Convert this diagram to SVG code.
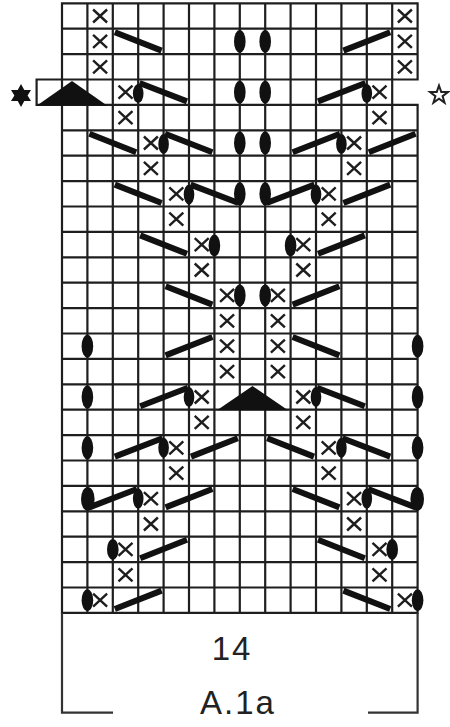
<svg xmlns="http://www.w3.org/2000/svg" width="450" height="727" viewBox="0 0 450 727">
<style>
.grid{fill:none;stroke:#1e1e1e;stroke-width:2.2;stroke-linecap:square}
.xm{fill:none;stroke:#1e1e1e;stroke-width:2.4}
.bar{stroke:#111;stroke-width:6;stroke-linecap:butt}
.ov{fill:#111}
.tri{fill:#111}
.br{fill:none;stroke:#333;stroke-width:2.2}
.lbl{font-family:"Liberation Sans",Arial,sans-serif;font-size:33px;fill:#222;letter-spacing:2px;text-anchor:middle}
</style>
<defs>
<path id="x" class="xm" d="M-7 -6.5L7 6.5M-7 6.5L7 -6.5"/>
<g id="half">
<g id="xs">
<use href="#x" x="100.1" y="16"/>
<use href="#x" x="100.1" y="41.4"/>
<use href="#x" x="100.1" y="66.8"/>
<use href="#x" x="125.5" y="92.2"/>
<use href="#x" x="125.5" y="117.6"/>
<use href="#x" x="150.9" y="143"/>
<use href="#x" x="150.9" y="168.4"/>
<use href="#x" x="176.3" y="193.8"/>
<use href="#x" x="176.3" y="219.2"/>
<use href="#x" x="201.7" y="244.6"/>
<use href="#x" x="201.7" y="270"/>
<use href="#x" x="227.1" y="295.4"/>
<use href="#x" x="227.1" y="320.8"/>
<use href="#x" x="227.1" y="346.2"/>
<use href="#x" x="227.1" y="371.6"/>
<use href="#x" x="201.7" y="397"/>
<use href="#x" x="201.7" y="422.4"/>
<use href="#x" x="176.3" y="447.8"/>
<use href="#x" x="176.3" y="473.2"/>
<use href="#x" x="150.9" y="498.6"/>
<use href="#x" x="150.9" y="524"/>
<use href="#x" x="125.5" y="549.4"/>
<use href="#x" x="125.5" y="574.8"/>
<use href="#x" x="100.1" y="600.2"/>
</g>
<g id="bars">
<line class="bar" x1="114.8" y1="32.2" x2="161.6" y2="50.6"/>
<line class="bar" x1="139.5" y1="83" x2="187" y2="101.4"/>
<line class="bar" x1="89.4" y1="133.8" x2="136.2" y2="152.2"/>
<line class="bar" x1="165" y1="133.8" x2="212.4" y2="152.2"/>
<line class="bar" x1="114.8" y1="184.6" x2="161.6" y2="203"/>
<line class="bar" x1="190.5" y1="184.6" x2="238.5" y2="203"/>
<line class="bar" x1="140.2" y1="235.4" x2="187" y2="253.8"/>
<line class="bar" x1="165.6" y1="286.2" x2="212.4" y2="304.6"/>
<line class="bar" x1="165.6" y1="355.4" x2="212.4" y2="337"/>
<line class="bar" x1="140.2" y1="406.2" x2="188" y2="387.8"/>
<line class="bar" x1="114.8" y1="456.6" x2="162.5" y2="438.2"/>
<line class="bar" x1="191" y1="456.6" x2="237.8" y2="438.2"/>
<line class="bar" x1="89.4" y1="507.4" x2="137" y2="489"/>
<line class="bar" x1="165.6" y1="507.4" x2="212.4" y2="489"/>
<line class="bar" x1="140.2" y1="558.2" x2="187" y2="539.8"/>
<line class="bar" x1="114.8" y1="609" x2="161.6" y2="590.6"/>
</g>
<g id="ovals">
<ellipse class="ov" cx="239.8" cy="41.4" rx="5.8" ry="11.5"/>
<ellipse class="ov" cx="138.2" cy="93.5" rx="5.3" ry="9.5"/>
<ellipse class="ov" cx="239.8" cy="92.2" rx="5.8" ry="11.5"/>
<ellipse class="ov" cx="163.6" cy="144" rx="5.3" ry="10"/>
<ellipse class="ov" cx="239.8" cy="143" rx="5.8" ry="11.5"/>
<ellipse class="ov" cx="189" cy="194.5" rx="5.3" ry="10"/>
<ellipse class="ov" cx="239.8" cy="193.8" rx="5.8" ry="11.5"/>
<ellipse class="ov" cx="214.4" cy="245.5" rx="5.8" ry="11"/>
<ellipse class="ov" cx="239.8" cy="295.4" rx="5.8" ry="11"/>
<ellipse class="ov" cx="87.4" cy="346.2" rx="5.8" ry="11.5"/>
<ellipse class="ov" cx="87.4" cy="397" rx="5.8" ry="11.5"/>
<ellipse class="ov" cx="189" cy="397" rx="5.3" ry="10"/>
<ellipse class="ov" cx="87.4" cy="447.8" rx="5.8" ry="11.5"/>
<ellipse class="ov" cx="163.6" cy="447.8" rx="5.3" ry="10"/>
<ellipse class="ov" cx="87.8" cy="499" rx="6.8" ry="12"/>
<ellipse class="ov" cx="138.2" cy="498.6" rx="5.3" ry="10"/>
<ellipse class="ov" cx="112.8" cy="549.4" rx="5.8" ry="10.5"/>
<ellipse class="ov" cx="87.4" cy="600.2" rx="5.8" ry="11"/>
</g>
</g>
</defs>
<rect width="450" height="727" fill="#fff"/>
<g id="chart-grid">
<rect x="36.6" y="79.5" width="355.6" height="25.4" fill="#fff"/>
<path class="grid" d="M62 3.3H417.6M62 28.7H417.6M62 54.1H417.6M36.6 79.5H417.6M36.6 104.9H417.6M62 130.3H417.6M62 155.7H417.6M62 181.1H417.6M62 206.5H417.6M62 231.9H417.6M62 257.3H417.6M62 282.7H417.6M62 308.1H417.6M62 333.5H417.6M62 358.9H417.6M62 384.3H417.6M62 409.7H417.6M62 435.1H417.6M62 460.5H417.6M62 485.9H417.6M62 511.3H417.6M62 536.7H417.6M62 562.1H417.6M62 587.5H417.6M62 612.9H417.6M62 3.3V612.9M87.4 3.3V612.9M112.8 3.3V612.9M138.2 3.3V612.9M163.6 3.3V612.9M189 3.3V612.9M214.4 3.3V612.9M239.8 3.3V612.9M265.2 3.3V612.9M290.6 3.3V612.9M316 3.3V612.9M341.4 3.3V612.9M366.8 3.3V612.9M392.2 3.3V612.9M417.6 3.3V79.5M417.6 104.9V612.9M36.6 79.5V104.9"/>
</g>
<g id="symbols">
<use href="#half"/>
<use href="#half" transform="translate(505 0) scale(-1 1)"/>
<polygon id="triangle-top" class="tri" points="37,105.5 72,81 107,105.5"/>
<polygon id="triangle-centre" class="tri" points="217,410.3 252.5,386 288,410.3"/>
</g>
<g id="markers">
<polygon id="star-filled" fill="#111" points="21,84 24.3,90 31,90 27.6,95.5 31,101 24.3,101 21,107 17.7,101 11,101 14.4,95.5 11,90 17.7,90"/>
<polygon id="star-open" fill="none" stroke="#222" stroke-width="2" stroke-linejoin="miter" points="439,85.5 441.23,91.93 448,92.06 442.61,96.17 444.58,102.69 439,98.8 433.42,102.69 435.39,96.17 430,92.06 436.77,91.93"/>
</g>
<g id="bracket">
<path class="br" d="M62 612.9V712.7H113M368 712.7H417.6V612.9"/>
<text class="lbl" x="232" y="660">14</text>
<text class="lbl" x="238" y="713.5">A.1a</text>
</g>
</svg>
